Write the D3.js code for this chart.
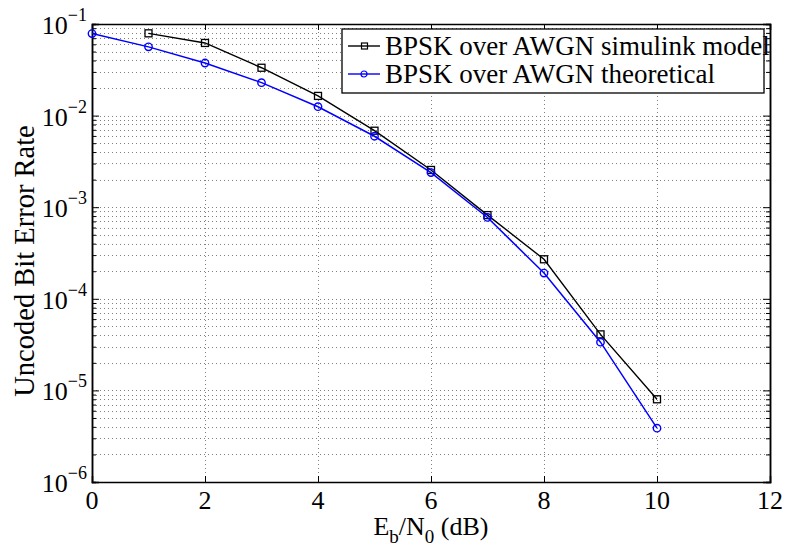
<!DOCTYPE html>
<html>
<head>
<meta charset="utf-8">
<script src="https://cdn.jsdelivr.net/npm/d3@7"></script>
<style>
  body { margin: 0; background: #fff; }
  text { font-family: "Liberation Serif", "Times New Roman", serif; fill: #000; }
</style>
</head>
<body>
<svg id="chart" width="786" height="550"></svg>
<script>
// data
const simEbNo = [1, 2, 3, 4, 5, 6, 7, 8, 9, 10];
const simBer = [0.0791, 0.0621, 0.0333, 0.0164, 0.00684, 0.00255, 8.2e-4, 2.7e-4, 4.09e-5, 8.0e-6];
const theoEbNo = [0, 1, 2, 3, 4, 5, 6, 7, 8, 9, 10];
const theoBer = [0.0786, 0.0563, 0.0375, 0.0229, 0.0125, 0.00595, 0.00239, 7.73e-4, 1.91e-4, 3.36e-5, 3.87e-6];
const xTicks = [0, 2, 4, 6, 8, 10, 12];
const yExponents = [-6, -5, -4, -3, -2, -1];
const legendLabels = ["BPSK over AWGN simulink model", "BPSK over AWGN theoretical"];

const svg = d3.select("#chart"),
    margin = { top: 24, right: 16, bottom: 68, left: 92 },
    width = +svg.attr("width") - margin.left - margin.right,
    height = +svg.attr("height") - margin.top - margin.bottom;

const x = d3.scaleLinear().domain([0, 12]).range([0, width]);
const y = d3.scaleLog().domain([1e-6, 1e-1]).range([height, 0]);

const g = svg.append("g").attr("transform", `translate(${margin.left},${margin.top})`);

const majorY = yExponents.map(e => Math.pow(10, e));
const minorY = [];
yExponents.slice(0, -1).forEach(e => {
    for (let k = 2; k <= 9; k++) minorY.push(k * Math.pow(10, e));
});

// grid (dotted)
const grid = g.append("g").attr("class", "grid")
    .attr("stroke", "#808080").attr("stroke-width", 1).attr("stroke-dasharray", "1,3");
grid.selectAll(".gy").data(majorY.concat(minorY).filter(v => v > 1e-6 && v < 1e-1))
    .join("line")
    .attr("x1", 0).attr("x2", width)
    .attr("y1", d => Math.round(y(d)) + 0.5).attr("y2", d => Math.round(y(d)) + 0.5);
grid.selectAll(".gx").data(xTicks.filter(d => d > 0 && d < 12))
    .join("line")
    .attr("y1", 0).attr("y2", height)
    .attr("x1", d => Math.round(x(d)) + 0.5).attr("x2", d => Math.round(x(d)) + 0.5);

// axes with inward ticks
const noLabel = () => "";
g.append("g").attr("transform", `translate(0,${height})`)
    .call(d3.axisBottom(x).tickValues(xTicks).tickSize(-6).tickFormat(noLabel));
g.append("g")
    .call(d3.axisTop(x).tickValues(xTicks).tickSize(-6).tickFormat(noLabel));
g.append("g")
    .call(d3.axisLeft(y).tickValues(majorY).tickSize(-7).tickFormat(noLabel));
g.append("g")
    .call(d3.axisLeft(y).tickValues(minorY).tickSize(-4).tickFormat(noLabel));
g.append("g").attr("transform", `translate(${width},0)`)
    .call(d3.axisRight(y).tickValues(majorY).tickSize(-7).tickFormat(noLabel));
g.append("g").attr("transform", `translate(${width},0)`)
    .call(d3.axisRight(y).tickValues(minorY).tickSize(-4).tickFormat(noLabel));
g.selectAll(".domain").attr("stroke", "#000").attr("stroke-width", 1.5);
g.selectAll(".tick line").attr("stroke", "#000").attr("stroke-width", 1);

// tick labels
g.selectAll(".xlab").data(xTicks).join("text")
    .attr("x", d => x(d)).attr("y", height + 27)
    .attr("text-anchor", "middle").attr("font-size", 26)
    .text(d => d);

const ylab = g.selectAll(".ylab").data(yExponents).join("text")
    .attr("x", -5).attr("y", d => y(Math.pow(10, d)) + 10)
    .attr("text-anchor", "end").attr("font-size", 26);
ylab.append("tspan").text("10");
ylab.append("tspan").attr("dy", -13).attr("font-size", 18).text(d => "\u2212" + Math.abs(d));

// series
const simLine = d3.line().x((d, i) => x(simEbNo[i])).y(d => y(d));
const theoLine = d3.line().x((d, i) => x(theoEbNo[i])).y(d => y(d));

g.append("path").datum(simBer)
    .attr("fill", "none").attr("stroke", "#000").attr("stroke-width", 1.4)
    .attr("d", simLine);
g.selectAll(".sq").data(simBer).join("rect")
    .attr("x", (d, i) => x(simEbNo[i]) - 3.5).attr("y", d => y(d) - 3.5)
    .attr("width", 7).attr("height", 7)
    .attr("fill", "none").attr("stroke", "#000").attr("stroke-width", 1.3);

g.append("path").datum(theoBer)
    .attr("fill", "none").attr("stroke", "#0000ff").attr("stroke-width", 1.5)
    .attr("d", theoLine);
g.selectAll(".circ").data(theoBer).join("circle")
    .attr("cx", (d, i) => x(theoEbNo[i])).attr("cy", d => y(d))
    .attr("r", 3.7)
    .attr("fill", "none").attr("stroke", "#0000ff").attr("stroke-width", 1.4);

// axis titles
const xt = svg.append("text")
    .attr("x", margin.left + width / 2).attr("y", 535)
    .attr("text-anchor", "middle").attr("font-size", 26);
xt.append("tspan").text("E");
xt.append("tspan").attr("dy", 8).attr("font-size", 19).text("b");
xt.append("tspan").attr("dy", -8).text("/N");
xt.append("tspan").attr("dy", 8).attr("font-size", 19).text("0");
xt.append("tspan").attr("dy", -8).text(" (dB)");

svg.append("text")
    .attr("transform", `translate(34,261) rotate(-90)`)
    .attr("text-anchor", "middle").attr("font-size", 28.5)
    .text("Uncoded Bit Error Rate");

// legend
const leg = svg.append("g").attr("transform", "translate(342,29)");
leg.append("rect").attr("width", 422).attr("height", 64)
    .attr("fill", "#fff").attr("stroke", "#000").attr("stroke-width", 1.3);
const rows = leg.selectAll(".row").data(legendLabels).join("g")
    .attr("transform", (d, i) => `translate(0,${17 + i * 28})`);
rows.append("line").attr("x1", 6).attr("x2", 38)
    .attr("stroke", (d, i) => i ? "#0000ff" : "#000").attr("stroke-width", 1.4);
rows.filter((d, i) => i === 0).append("rect")
    .attr("x", 19.5).attr("y", -3).attr("width", 6).attr("height", 6)
    .attr("fill", "none").attr("stroke", "#000").attr("stroke-width", 1.2);
rows.filter((d, i) => i === 1).append("circle")
    .attr("cx", 22).attr("r", 3)
    .attr("fill", "none").attr("stroke", "#0000ff").attr("stroke-width", 1.2);
rows.append("text").attr("x", 43).attr("y", 9).attr("font-size", 27).text(d => d);
</script>
</body>
</html>
